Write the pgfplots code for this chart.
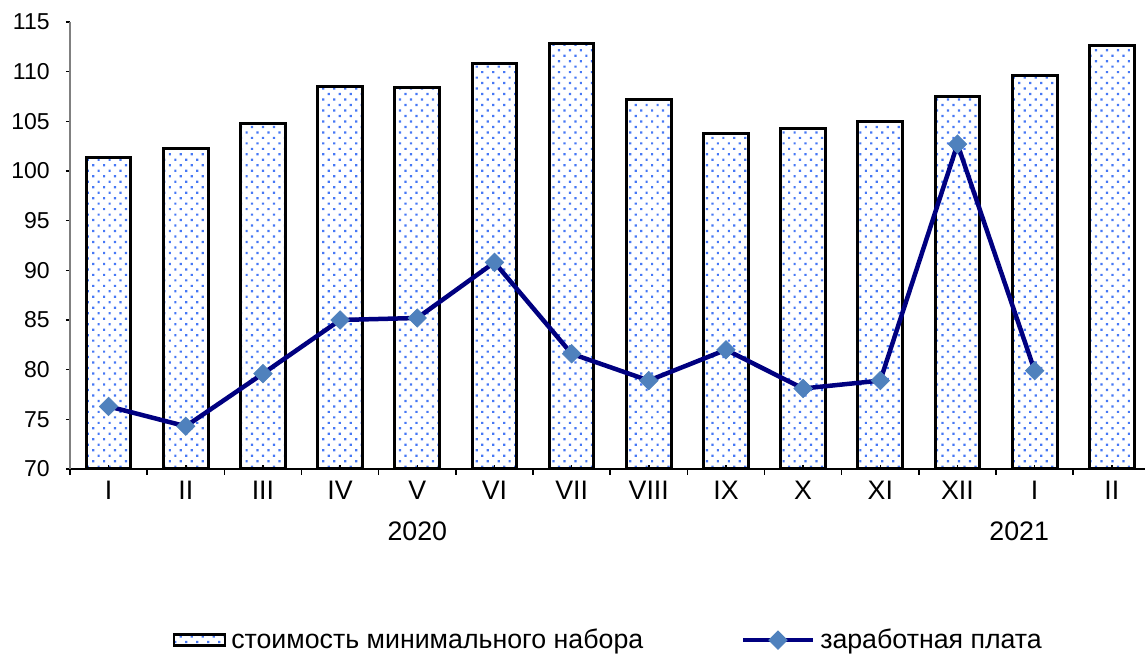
\documentclass[border=0pt]{standalone}
\usepackage{fontspec}
\setmainfont{Liberation Sans}
\usepackage{pgfplots}
\pgfplotsset{compat=1.18}
\usetikzlibrary{patterns.meta}
\definecolor{dotblue}{RGB}{70,120,245}
\definecolor{navyline}{RGB}{0,0,128}
\definecolor{markblue}{RGB}{79,129,189}

\pgfplotsset{
    barleg/.style={legend image code/.code={\draw[##1, line width=1pt] (0pt,-2.2pt) rectangle (20.5pt,2.2pt);}},
    lineleg/.style={legend image code/.code={\draw[##1, mark repeat=2, mark phase=2] plot coordinates {(0pt,0pt)(14pt,0pt)(28pt,0pt)};}},
}

\begin{document}
\begin{tikzpicture}
\begin{axis}[
    name=ax,
    scale only axis,
    width=430pt, height=178.8pt,
    xmin=-0.5, xmax=13.43,
    ymin=70, ymax=115,
    ytick={70,75,...,115},
    xtick={0,...,13},
    xticklabels={I,II,III,IV,V,VI,VII,VIII,IX,X,XI,XII,I,II},
    extra x ticks={-0.5,0.5,...,12.5},
    extra x tick labels={},
    extra x tick style={tick align=outside, major tick length=2.4pt},
    axis x line*=bottom,
    axis y line*=left,
    x axis line style={black, line width=0.6pt, -},
    y axis line style={gray, line width=0.8pt, -},
    xtick style={black, line width=0.6pt},
    ytick style={black, line width=0.6pt},
    tick align=inside,
    major tick length=1.6pt,
    ytick align=outside,
    /pgf/number format/assume math mode=true,
    yticklabel style={font=\fontsize{9.2}{11}\selectfont, xshift=-3pt},
    xticklabel style={font=\fontsize{10.7}{13}\selectfont, yshift=-1.5pt},
    axis on top,
    clip=false,
    legend columns=2,
    legend style={at={(0.502,-0.383)}, anchor=center, draw=none,
        font=\fontsize{10.7}{13}\selectfont,
        /tikz/every even column/.append style={column sep=37pt}},
    legend cell align=left,
]
\addplot[ybar, bar width=0.58, draw=black, line width=1.2pt,
    fill=white, pattern={Dots[distance=3.1pt,angle=45,radius=0.62pt]}, pattern color=dotblue,
    barleg]
coordinates {(0,101.4)(1,102.3)(2,104.8)(3,108.5)(4,108.4)(5,110.8)(6,112.8)
 (7,107.2)(8,103.8)(9,104.3)(10,105.0)(11,107.5)(12,109.6)(13,112.6)};
\addlegendentry{стоимость минимального набора}
\addplot[navyline, line width=1.8pt, sharp plot,
    mark=square*, mark size=2.6pt,
    mark options={rotate=45, fill=markblue, draw=markblue, line width=0.3pt},
    lineleg]
coordinates {(0,76.3)(1,74.3)(2,79.6)(3,85.0)(4,85.2)(5,90.8)(6,81.6)
 (7,78.9)(8,82.0)(9,78.1)(10,78.9)(11,102.7)(12,79.9)};
\addlegendentry{заработная плата}
\node[font=\fontsize{10.7}{13}\selectfont] at (axis cs:4,70) [yshift=-24.8pt] {2020};
\node[font=\fontsize{10.7}{13}\selectfont] at (axis cs:11.8,70) [yshift=-24.8pt] {2021};
\end{axis}
\pgfresetboundingbox
\path[use as bounding box] ([shift={(-28pt,-78pt)}]ax.south west) rectangle ([shift={(0pt,8.8pt)}]ax.north east);
\end{tikzpicture}
\end{document}
